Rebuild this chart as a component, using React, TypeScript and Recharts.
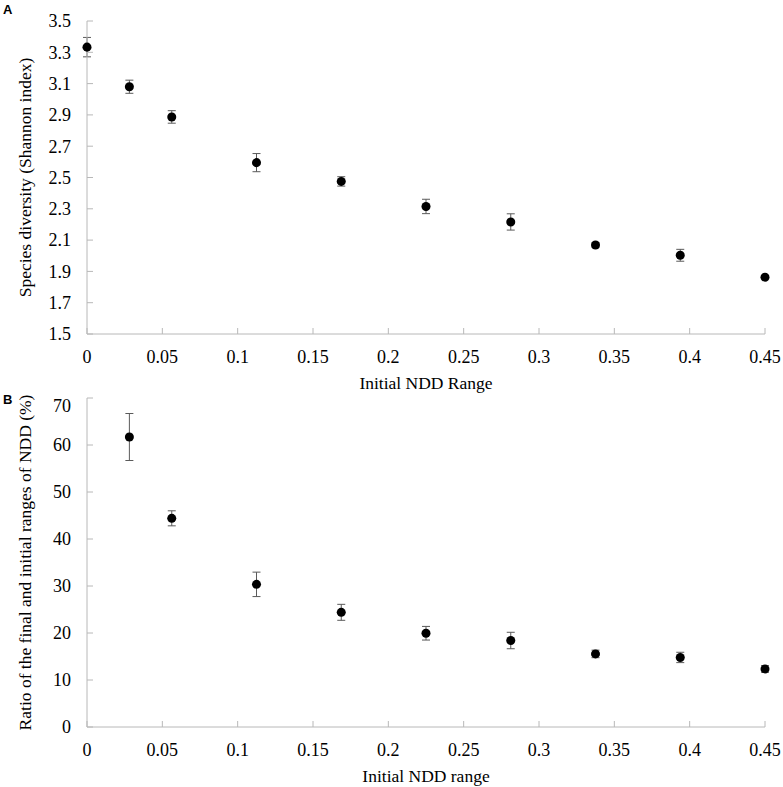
import { ScatterChart, Scatter, XAxis, YAxis, ErrorBar, Label } from 'recharts';

// Initial NDD range (x) shared by both panels
const nddRange = [0, 0.028125, 0.05625, 0.1125, 0.16875, 0.225, 0.28125, 0.3375, 0.39375, 0.45];
const xTicks = [0, 0.05, 0.1, 0.15, 0.2, 0.25, 0.3, 0.35, 0.4, 0.45];

// Panel A: Shannon index
const diversity = [3.333, 3.08, 2.887, 2.595, 2.475, 2.315, 2.216, 2.069, 2.003, 1.863];
const diversityErr = [0.062, 0.042, 0.04, 0.058, 0.03, 0.046, 0.052, 0.015, 0.038, 0.01];
const diversityTicks = [1.5, 1.7, 1.9, 2.1, 2.3, 2.5, 2.7, 2.9, 3.1, 3.3, 3.5];

// Panel B: ratio of final / initial range (%), no value at x = 0
const ratio = [null, 61.7, 44.4, 30.35, 24.4, 19.95, 18.4, 15.55, 14.8, 12.35];
const ratioErr = [null, 5.0, 1.6, 2.6, 1.7, 1.45, 1.75, 0.8, 1.1, 0.7];
const ratioTicks = [0, 10, 20, 30, 40, 50, 60, 70];

const dataA = nddRange.map((x, i) => ({ x, y: diversity[i], err: diversityErr[i] }));
const dataB = nddRange
  .map((x, i) => ({ x, y: ratio[i], err: ratioErr[i] }))
  .filter((d) => d.y !== null);

const FONT = '"Liberation Serif", "Times New Roman", serif';
const AXIS = '#b8b8b8';
const tickStyle = { fill: '#000', fontSize: 18, fontFamily: FONT };

const YTitle = (text: string) => (props: any) => {
  const { viewBox } = props;
  const cx = viewBox.x - 2;
  const cy = viewBox.y + viewBox.height / 2;
  return (
    <text
      x={cx}
      y={cy}
      transform={`rotate(-90 ${cx} ${cy})`}
      textAnchor="middle"
      dominantBaseline="central"
      fontFamily={FONT}
      fontSize={17.5}
      fill="#000"
    >
      {text}
    </text>
  );
};

const XTitle = (text: string, dy: number) => (props: any) => {
  const { viewBox } = props;
  return (
    <text
      x={viewBox.x + viewBox.width / 2}
      y={viewBox.y + dy}
      textAnchor="middle"
      dominantBaseline="central"
      fontFamily={FONT}
      fontSize={17.5}
      fill="#000"
    >
      {text}
    </text>
  );
};

const panelLabel = {
  position: 'absolute' as const,
  left: 3,
  fontFamily: '"Liberation Sans", Arial, sans-serif',
  fontWeight: 700,
  fontSize: 13,
  lineHeight: '13px',
};

export default function App() {
  return (
    <div style={{ position: 'absolute', left: 0, top: 0, width: 783, height: 787, background: '#fff' }}>
      <div style={{ ...panelLabel, top: 3 }}>A</div>
      <div style={{ ...panelLabel, top: 393 }}>B</div>

      <ScatterChart width={783} height={395} margin={{ top: 21, right: 18, left: 27, bottom: 0 }}>
        <XAxis
          type="number"
          dataKey="x"
          domain={[0, 0.45]}
          ticks={xTicks}
          tickFormatter={(v) => String(v)}
          height={61}
          stroke={AXIS}
          tickSize={-6}
          tickMargin={22}
          tick={tickStyle}
        >
          <Label content={XTitle('Initial NDD Range', 48.5)} />
        </XAxis>
        <YAxis
          type="number"
          dataKey="y"
          domain={[1.5, 3.5]}
          ticks={diversityTicks}
          tickFormatter={(v) => v.toFixed(1)}
          width={60}
          stroke={AXIS}
          tickSize={-6}
          tickMargin={22}
          tick={tickStyle}
        >
          <Label content={YTitle('Species diversity (Shannon index)')} />
        </YAxis>
        <Scatter data={dataA} fill="#000" shape="circle" isAnimationActive={false}>
          <ErrorBar dataKey="err" direction="y" width={4} stroke="#5a5a5a" strokeWidth={1} isAnimationActive={false} />
        </Scatter>
      </ScatterChart>

      <ScatterChart width={783} height={392} margin={{ top: 3, right: 18, left: 27, bottom: 0 }}>
        <XAxis
          type="number"
          dataKey="x"
          domain={[0, 0.45]}
          ticks={xTicks}
          tickFormatter={(v) => String(v)}
          height={60}
          stroke={AXIS}
          tickSize={-6}
          tickMargin={22}
          tick={tickStyle}
        >
          <Label content={XTitle('Initial NDD range', 49.3)} />
        </XAxis>
        <YAxis
          type="number"
          dataKey="y"
          domain={[0, 70]}
          ticks={ratioTicks}
          width={60}
          stroke={AXIS}
          tickSize={-6}
          tickMargin={22}
          tick={tickStyle}
        >
          <Label content={YTitle('Ratio of the final and initial ranges of NDD (%)')} />
        </YAxis>
        <Scatter data={dataB} fill="#000" shape="circle" isAnimationActive={false}>
          <ErrorBar dataKey="err" direction="y" width={4} stroke="#5a5a5a" strokeWidth={1} isAnimationActive={false} />
        </Scatter>
      </ScatterChart>
    </div>
  );
}
